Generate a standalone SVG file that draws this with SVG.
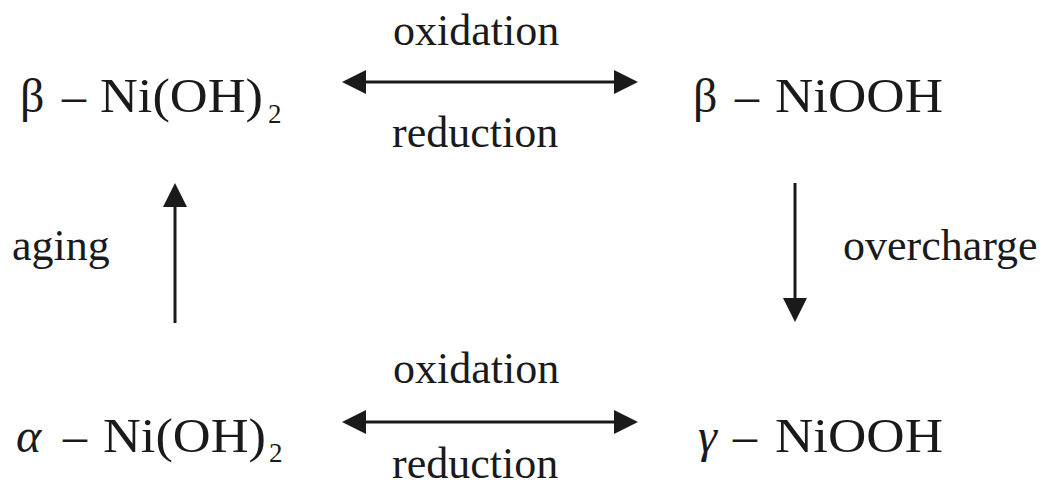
<svg xmlns="http://www.w3.org/2000/svg" width="1043" height="486" viewBox="0 0 1043 486">
<style>
text{font-family:"Liberation Serif","Times New Roman",serif;fill:#1a1a1a}
.lab{font-size:44px}
.f{font-size:48px}
.sub{font-size:27px}
.it{font-style:italic}
.c{stroke:#1a1a1a;stroke-width:3;fill:none}
</style>
<defs>
<marker id="ah" markerUnits="userSpaceOnUse" markerWidth="24" markerHeight="26" viewBox="0 0 24 26" refX="2" refY="13" orient="auto-start-reverse">
<path d="M0,1 L24,13 L0,25 z" fill="#1a1a1a"/>
</marker>
</defs>
<rect width="1043" height="486" fill="#fff"/>
<g id="connectors">
<line class="c" x1="364" y1="82" x2="616" y2="82" marker-start="url(#ah)" marker-end="url(#ah)"/>
<line class="c" x1="364" y1="422" x2="616" y2="422" marker-start="url(#ah)" marker-end="url(#ah)"/>
<line class="c" x1="175" y1="323" x2="175" y2="205" marker-end="url(#ah)"/>
<line class="c" x1="795" y1="183" x2="795" y2="300" marker-end="url(#ah)"/>
<text class="lab" x="393" y="45">oxidation</text>
<text class="lab" x="392" y="147">reduction</text>
<text class="lab" x="393" y="383">oxidation</text>
<text class="lab" x="392" y="478">reduction</text>
<text class="lab" x="12" y="260">aging</text>
<text class="lab" x="843" y="260">overcharge</text>
</g>
<g id="beta-NiOH2">
<text class="f" x="20" y="112">β</text>
<text class="f" x="62" y="112">–</text>
<text class="f" x="100" y="112" textLength="163" lengthAdjust="spacingAndGlyphs">Ni(OH)</text>
<text class="sub" x="268" y="123">2</text>
</g>
<g id="beta-NiOOH">
<text class="f" x="693" y="112">β</text>
<text class="f" x="735" y="112">–</text>
<text class="f" x="775" y="112" textLength="168" lengthAdjust="spacingAndGlyphs">NiOOH</text>
</g>
<g id="alpha-NiOH2">
<text class="f it" x="16" y="452" font-size="54">α</text>
<text class="f" x="63" y="452">–</text>
<text class="f" x="103" y="452" textLength="163" lengthAdjust="spacingAndGlyphs">Ni(OH)</text>
<text class="sub" x="269" y="462">2</text>
</g>
<g id="gamma-NiOOH">
<text class="f it" x="698" y="452">γ</text>
<text class="f" x="733" y="452">–</text>
<text class="f" x="775" y="452" textLength="168" lengthAdjust="spacingAndGlyphs">NiOOH</text>
</g>
</svg>
